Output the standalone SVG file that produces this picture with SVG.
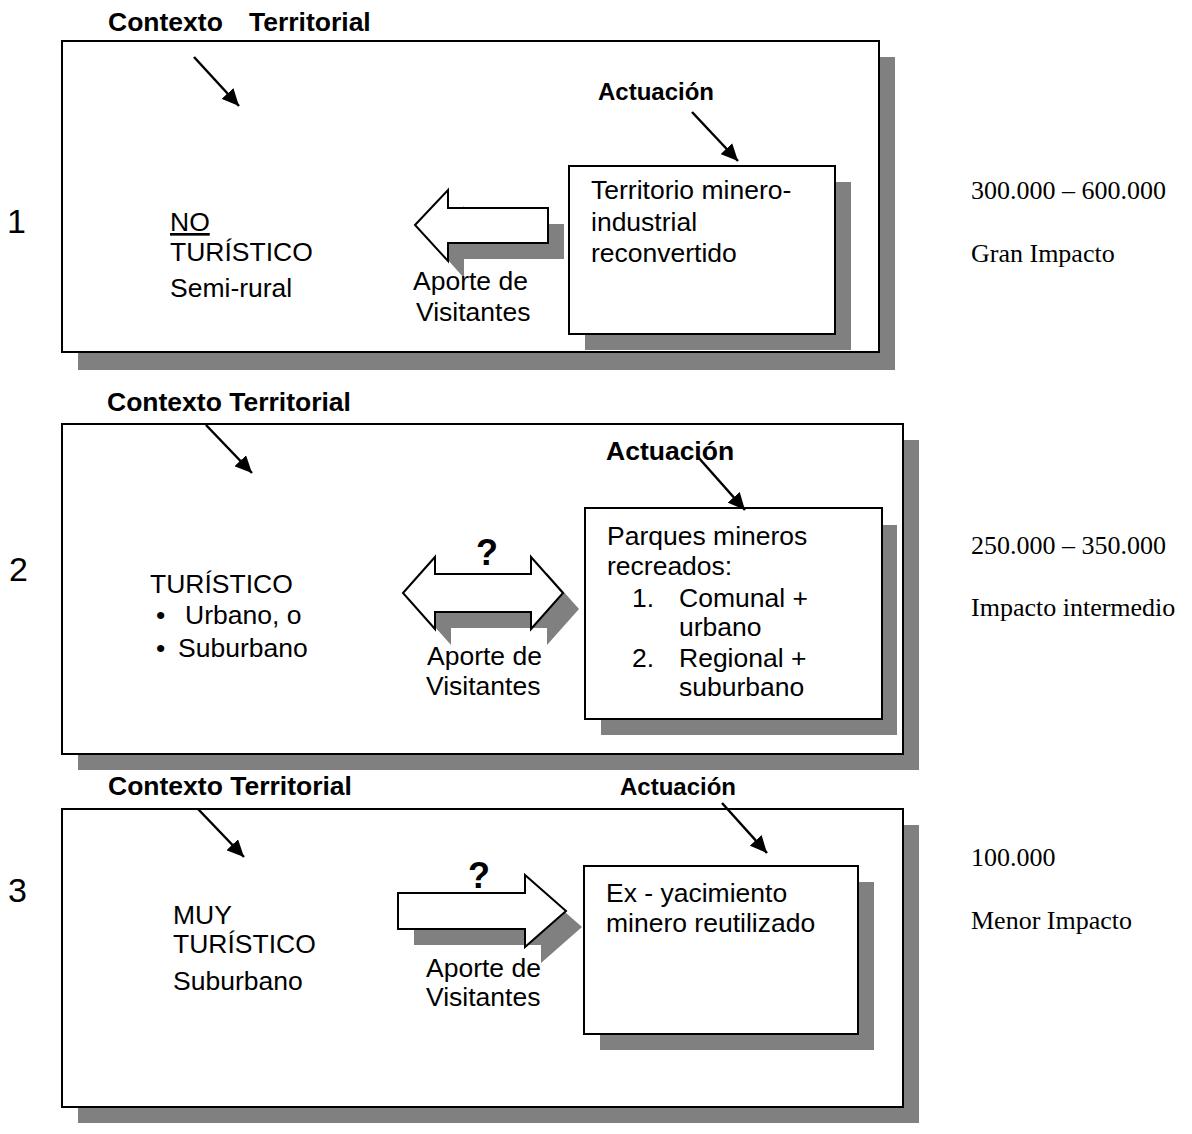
<svg xmlns="http://www.w3.org/2000/svg" width="1192" height="1134" viewBox="0 0 1192 1134">
<style>
.box{fill:#fff;stroke:#000;stroke-width:2}
.sh{fill:#808080;stroke:none}
.t{font-family:"Liberation Sans",Arial,sans-serif;font-size:26.5px;fill:#000}
.b{font-family:"Liberation Sans",Arial,sans-serif;font-weight:bold;font-size:26.5px;fill:#000}
.s{font-family:"Liberation Serif","Times New Roman",serif;font-size:26px;fill:#000}
.n{font-family:"Liberation Sans",Arial,sans-serif;font-size:34px;fill:#000}
.q{font-family:"Liberation Sans",Arial,sans-serif;font-weight:bold;font-size:36px;fill:#000}
.ln{stroke:#000;stroke-width:2.5;fill:none;marker-end:url(#ah)}
.ba{fill:#fff;stroke:#000;stroke-width:2;stroke-linejoin:miter}
</style>
<defs>
<marker id="ah" markerUnits="userSpaceOnUse" markerWidth="18" markerHeight="16" refX="17" refY="8" orient="auto">
<path d="M0,0 L17,8 L0,16 z" fill="#000"/>
</marker>
</defs>
<rect width="1192" height="1134" fill="#fff"/>

<!-- Row 1 -->
<g id="row1">
<rect class="sh" x="78" y="57" width="817" height="313"/>
<rect class="box" x="62" y="41" width="817" height="311"/>
<text class="n" x="7" y="233">1</text>
<text class="b"><tspan x="108" y="31">Contexto</tspan><tspan x="249" y="31">Territorial</tspan></text>
<text class="t" x="170" y="231" text-decoration="underline">NO</text>
<text class="t" x="170" y="261">TURÍSTICO</text>
<text class="t" x="170" y="297">Semi-rural</text>
<text class="b" x="598" y="100" style="font-size:24px">Actuación</text>
<text class="s" x="971" y="199">300.000 – 600.000</text>
<text class="s" x="971" y="262">Gran Impacto</text>
</g>
<g id="act1">
<rect class="sh" x="585" y="182" width="266" height="168"/>
<rect class="box" x="569" y="166" width="266" height="168"/>
<text class="t" x="591" y="199">Territorio minero-</text>
<text class="t" x="591" y="231">industrial</text>
<text class="t" x="591" y="262">reconvertido</text>
</g>
<g id="flow1">
<path class="sh" d="M431,241 L464,206 L464,224 L564,224 L564,259 L464,259 L464,278 Z"/>
<path class="ba" d="M415,225 L448,190 L448,208 L548,208 L548,243 L448,243 L448,261 Z"/>
<text class="t" x="413" y="290">Aporte de</text>
<text class="t" x="416" y="321">Visitantes</text>
</g>

<!-- Row 2 -->
<g id="row2">
<rect class="sh" x="78" y="440" width="841" height="330"/>
<rect class="box" x="62" y="424" width="841" height="330"/>
<text class="n" x="9" y="581">2</text>
<text class="b" x="107" y="411">Contexto Territorial</text>
<text class="t" x="150" y="593">TURÍSTICO</text>
<text class="t" x="156" y="624">•</text>
<text class="t" x="185" y="624">Urbano, o</text>
<text class="t" x="156" y="657">•</text>
<text class="t" x="178" y="657">Suburbano</text>
<text class="b" x="606" y="460">Actuación</text>
<text class="s" x="971" y="554">250.000 – 350.000</text>
<text class="s" x="971" y="616">Impacto intermedio</text>
</g>
<g id="act2">
<rect class="sh" x="601" y="525" width="296" height="210"/>
<rect class="box" x="585" y="508" width="297" height="211"/>
<text class="t" x="607" y="545">Parques mineros</text>
<text class="t" x="607" y="575">recreados:</text>
<text class="t" x="632" y="607">1.</text>
<text class="t" x="679" y="607">Comunal +</text>
<text class="t" x="679" y="636">urbano</text>
<text class="t" x="632" y="667">2.</text>
<text class="t" x="679" y="667">Regional +</text>
<text class="t" x="679" y="696">suburbano</text>
</g>
<g id="flow2">
<path class="sh" d="M419,609 L451,573 L451,590 L547,590 L547,573 L579,609 L547,645 L547,628 L451,628 L451,645 Z"/>
<path class="ba" d="M403,593 L435,557 L435,574 L531,574 L531,557 L563,593 L531,629 L531,612 L435,612 L435,629 Z"/>
<text class="q" x="476" y="565">?</text>
<text class="t" x="427" y="665">Aporte de</text>
<text class="t" x="426" y="695">Visitantes</text>
</g>

<!-- Row 3 -->
<g id="row3">
<rect class="sh" x="78" y="825" width="841" height="298"/>
<rect class="box" x="62" y="809" width="841" height="298"/>
<text class="n" x="8" y="902">3</text>
<text class="b" x="108" y="795">Contexto Territorial</text>
<text class="t" x="173" y="924">MUY</text>
<text class="t" x="173" y="953">TURÍSTICO</text>
<text class="t" x="173" y="990">Suburbano</text>
<text class="b" x="620" y="795" style="font-size:24px">Actuación</text>
<text class="s" x="971" y="866">100.000</text>
<text class="s" x="971" y="929">Menor Impacto</text>
</g>
<g id="act3">
<rect class="sh" x="600" y="882" width="274" height="168"/>
<rect class="box" x="584" y="866" width="274" height="168"/>
<text class="t" x="606" y="902">Ex - yacimiento</text>
<text class="t" x="606" y="932">minero reutilizado</text>
</g>
<g id="flow3">
<path class="sh" d="M414,909 L541,909 L541,891 L582,927 L541,963 L541,945 L414,945 Z"/>
<path class="ba" d="M398,893 L525,893 L525,875 L566,911 L525,947 L525,929 L398,929 Z"/>
<text class="q" x="468" y="888">?</text>
<text class="t" x="426" y="977">Aporte de</text>
<text class="t" x="426" y="1006">Visitantes</text>
</g>

<!-- Connectors -->
<g id="connectors">
<line class="ln" x1="194" y1="57" x2="239" y2="106"/>
<line class="ln" x1="692" y1="112" x2="738" y2="161"/>
<line class="ln" x1="206" y1="425" x2="252" y2="473"/>
<line class="ln" x1="698" y1="457" x2="745" y2="510"/>
<line class="ln" x1="198" y1="809" x2="244" y2="857"/>
<line class="ln" x1="722" y1="803" x2="767" y2="853"/>
</g>
</svg>
